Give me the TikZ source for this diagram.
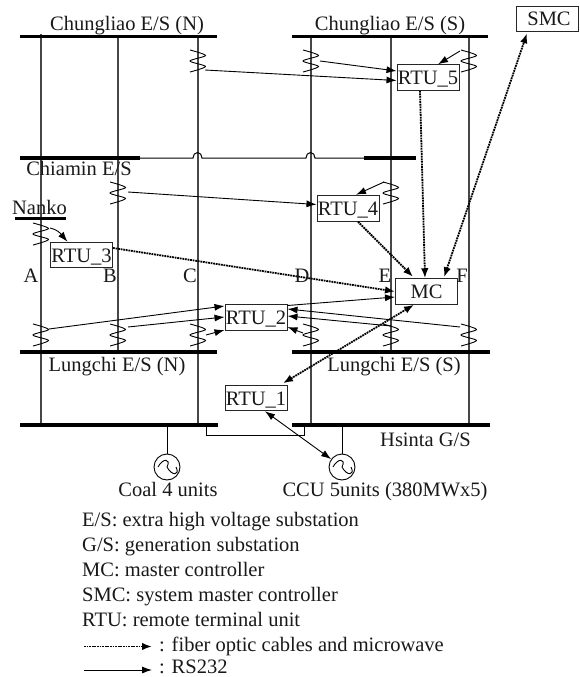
\documentclass[tikz,border=0pt]{standalone}
\usepackage{fontspec}
\setmainfont{Liberation Serif}
\usetikzlibrary{arrows.meta}
\tikzset{
  feeder/.style={line width=1.1pt,black!72},
  busbar/.style={line width=3.4pt,black},
  tie/.style={line width=1pt,black},
  lab/.style={inner sep=0pt,anchor=base,font=\fontsize{20.5}{24}\selectfont,text=black!90},
  legendtext/.style={lab,anchor=base west},
  unit/.style={draw=black!85,line width=1pt,fill=white,minimum width=62pt,minimum height=25.5pt,inner sep=0pt,text height=14pt,text depth=0pt,font=\fontsize{20.5}{24}\selectfont,text=black!90},
  rs/.style={line width=0.9pt,-{Latex[length=10pt,width=7pt]}},
  rsboth/.style={line width=0.9pt,{Latex[length=10pt,width=7pt]}-{Latex[length=10pt,width=7pt]}},
  fiber/.style={line width=1.8pt,dash pattern=on 1.8pt off 0.8pt,-{Latex[length=10pt,width=7.5pt]}},
  fiberboth/.style={line width=1.8pt,dash pattern=on 1.8pt off 0.8pt,{Latex[length=10pt,width=7.5pt]}-{Latex[length=10pt,width=7.5pt]}},
  gen/.style={circle,draw=black,line width=0.9pt,minimum size=26pt,inner sep=0pt,fill=white},
  squig/.pic={\draw[line width=0.9pt,black] plot[smooth,tension=0.5] coordinates {(-8,-11) (7.5,-5.5) (-8,0) (7.5,5.5) (-8,11)};}
}
\begin{document}
\begin{tikzpicture}[x=1pt,y=-1pt]
\useasboundingbox (0,0) rectangle (579,677);
\fill[white] (0,0) rectangle (579,677);
% feeders
\draw[feeder] (41,34) -- (41,425);
\draw[feeder] (118,36) -- (118,352);
\draw[feeder] (198,36) -- (198,425);
\draw[feeder] (311,36) -- (311,425);
\draw[feeder] (391,36) -- (391,352);
\draw[feeder] (469,36) -- (469,425);
% tie line with hops
\draw[tie] (140,158) -- (193,158) arc[start angle=180,end angle=0,x radius=4.5,y radius=-5.5] -- (306,158) arc[start angle=180,end angle=0,x radius=4.5,y radius=-5.5] -- (364,158);
% buses
\draw[busbar] (20,36.5) -- (217,36.5);
\draw[busbar] (292,36.5) -- (488,36.5);
\draw[busbar] (20,158) -- (140,158);
\draw[busbar] (364,158) -- (416,158);
\draw[line width=3pt] (15,218.5) -- (66,218.5);
\draw[busbar] (20,352) -- (217,352);
\draw[busbar] (292,352) -- (490,352);
\draw[busbar] (20,425) -- (218,425);
\draw[busbar] (292,425) -- (490,425);
\draw[tie] (206,425) -- (206,435) -- (304,435) -- (304,425);
% squiggles
\foreach \p in {(198,61),(311,61),(469,61),(118,193),(391,193),(41,234),(41,335),(118,335),(198,335),(311,335),(391,335),(469,335)}
  \pic at \p {squig};
% generators
\node[gen] (g1) at (167,467) {};
\node[gen] (g2) at (342,467) {};
\draw[tie] (167,425) -- (g1);
\draw[tie] (342,425) -- (g2);
\foreach \g in {g1,g2}
  \draw[line width=0.9pt] ([xshift=-9pt]\g.center) .. controls +(4.5pt,9pt) and +(4.5pt,9pt) .. (\g.center) .. controls +(4.5pt,-9pt) and +(4.5pt,-9pt) .. ([xshift=9pt]\g.center);
% units
\node[unit] (rtu5) at (428,77.5) {RTU\_5};
\node[unit] (rtu4) at (348,208.5) {RTU\_4};
\node[unit] (rtu3) at (81.5,255) {RTU\_3};
\node[unit] (rtu2) at (256,317.5) {RTU\_2};
\node[unit] (rtu1) at (256,398) {RTU\_1};
\node[unit] (mc) at (426.5,291.5) {MC};
\node[unit] (smc) at (547.5,19) {\hspace*{3pt}SMC};
% connector tails
\coordinate (a1) at (205,70);
\coordinate (a2) at (320,61);
\coordinate (a3) at (460,51);
\coordinate (a4) at (384,182);
\coordinate (a5) at (128,192);
\coordinate (a6) at (50,228);
\coordinate (b1) at (49,329);
\coordinate (b2) at (128,327);
\coordinate (b3) at (206,335);
\coordinate (c1) at (303,333);
\coordinate (c2) at (391,326);
\coordinate (c3) at (460,327);
% RS232
\draw[rs] (a1) -- ([yshift=-3pt]rtu5.west);
\draw[rs] (a2) -- ([yshift=6.5pt]rtu5.west);
\draw[rs] (a3) -- ([xshift=10pt]rtu5.north);
\draw[rs] (a4) -- ([xshift=8pt,yshift=0.5pt]rtu4.north);
\draw[rs] (a5) -- ([yshift=4pt]rtu4.west);
\draw[rs] (a6) .. controls (58,230) and (60,233) .. ([xshift=-14pt]rtu3.north);
\draw[rs] (b1) -- ([yshift=11.5pt]rtu2.west);
\draw[rs] (b2) -- ([yshift=0.5pt]rtu2.west);
\draw[rs] (b3) -- ([yshift=-12.5pt]rtu2.west);
\draw[rs] (c1) -- ([yshift=-9.5pt]rtu2.east);
\draw[rs] (c2) -- ([yshift=1.5pt]rtu2.east);
\draw[rs] (c3) -- ([yshift=8.5pt]rtu2.east);
\draw[rs] ([yshift=12pt]rtu2.east) -- ([yshift=-5.5pt]mc.west);
\draw[rsboth] ([xshift=9pt]rtu1.south) -- (g2);
% fiber
\draw[fiber] ([yshift=7pt]rtu3.east) -- (mc.west);
\draw[fiber] ([xshift=-8pt]rtu5.south) -- ([xshift=-1.5pt]mc.north);
\draw[fiber] ([xshift=10pt]rtu4.south) -- ([xshift=-13.5pt,yshift=1.5pt]mc.north);
\draw[fiberboth] ([xshift=-12.5pt]mc.south) -- ([xshift=27pt,yshift=1.5pt]rtu1.north);
\draw[fiberboth] ([xshift=17.5pt,yshift=1pt]mc.north) -- ([xshift=-20.5pt,yshift=-1pt]smc.south);
% labels
\node[lab] (l1) at (127,30.5) {Chungliao E/S (N)};
\node[lab] (l2) at (390,30.5) {Chungliao E/S (S)};
\node[lab] (l3) at (79,175.7) {Chiamin E/S};
\node[lab] (l4) at (39.5,214) {Nanko};
\node[lab] (la) at (31,282.7) {A};
\node[lab] (lb) at (110,282.7) {B};
\node[lab] (lc) at (190,282.7) {C};
\node[lab] (ld) at (302,282.7) {D};
\node[lab] (le) at (385,282.7) {E};
\node[lab] (lf) at (462,282.7) {F};
\node[lab] (l5) at (117,371.7) {Lungchi E/S (N)};
\node[lab] (l6) at (394,371.7) {Lungchi E/S (S)};
\node[legendtext] (l7) at (380,446) {Hsinta G/S};
\node[lab] (l8) at (168,496) {Coal 4 units};
\node[lab] (l9) at (385,496) {CCU 5units (380MWx5)};
% legend
\node[legendtext] (k1) at (82,526.7) {E/S: extra high voltage substation};
\node[legendtext] (k2) at (82,551.7) {G/S: generation substation};
\node[legendtext] (k3) at (82,576.7) {MC: master controller};
\node[legendtext] (k4) at (82,601) {SMC: system master controller};
\node[legendtext] (k5) at (82,626) {RTU: remote terminal unit};
\node[legendtext] (k6) at (159,651.7) {: fiber optic cables and microwave};
\node[legendtext] (k7) at (159,673.3) {: RS232};
\coordinate (k6a) at (84,646.5);
\coordinate (k6b) at (152,646.5);
\coordinate (k7a) at (84,670);
\coordinate (k7b) at (152,670);
\draw[fiber] (k6a) -- (k6b);
\draw[rs] (k7a) -- (k7b);
\end{tikzpicture}
\end{document}
